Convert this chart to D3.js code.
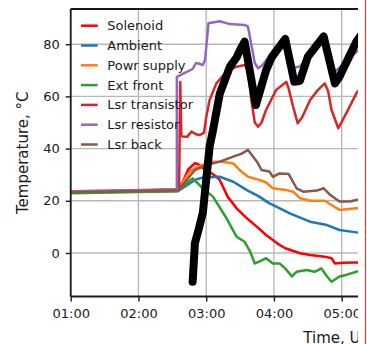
<!DOCTYPE html>
<html>
<head>
<meta charset="utf-8">
<script src="https://cdn.jsdelivr.net/npm/d3@7/dist/d3.min.js"></script>
<style>
  html, body { margin: 0; padding: 0; background: #fff; }
  svg { display: block; position: absolute; top: 0; left: 0; }
  text { font-family: "DejaVu Sans", sans-serif; fill: #1a1a1a; }
</style>
</head>
<body>
<script>
// Temperature logs, [time (UTC), °C]
const solenoid = [["01:00",23.3],["02:35",24.3],["02:39",27],["02:44",32],["02:50",34.4],["02:53",34],["02:58",32.2],["03:03",31],["03:08",29.6],["03:12",28],["03:19",21.6],["03:27",17.1],["03:36",13.3],["03:45",10],["03:53",6.9],["03:59",5],["04:05",3.1],["04:10",1.8],["04:23",-0.1],["04:32",-0.8],["04:45",-1.4],["04:51",-2],["04:54",-4],["05:01",-3.7],["05:13",-3.6],["05:18",-3.6]];
const ambient = [["01:00",23.2],["02:35",23.8],["02:39",24.8],["02:50",28],["02:57",28.9],["03:12",29.2],["03:24",27.3],["03:36",24.1],["03:47",21.6],["03:56",19],["03:59",18.4],["04:14",15.2],["04:32",12],["04:47",10.7],["04:58",8.8],["05:13",7.9],["05:18",7.7]];
const powrSupply = [["01:00",23.7],["02:35",24.3],["02:39",27],["02:45",31],["02:51",32.8],["02:59",34],["03:06",35],["03:15",35],["03:24",34.3],["03:31",31.2],["03:37",29.2],["03:47",28],["03:53",27],["03:59",24.8],["04:11",24.1],["04:17",23.5],["04:23",21],["04:32",20],["04:45",20],["04:51",18.4],["04:58",16.5],["05:13",17.1],["05:18",17.3]];
const extFront = [["01:00",22.9],["02:35",23.7],["02:39",25.5],["02:48",28.6],["02:57",24.8],["03:06",21.6],["03:18",13.3],["03:27",6.2],["03:34",4.3],["03:39",0.5],["03:43",-4],["03:47",-3.3],["03:53",-2],["03:59",-4],["04:05",-4],["04:10",-5.9],["04:16",-9],["04:20",-7.2],["04:29",-6.5],["04:36",-7.2],["04:42",-5.9],["04:47",-9],["04:51",-11],["04:58",-9],["05:04",-8.4],["05:13",-7.2],["05:18",-6.5]];
const lsrTransistor = [["01:00",23.4],["02:36",24.2],["02:37",65.5],["02:38",45],["02:39",44.6],["02:43",44.5],["02:47",46.5],["02:51",45.5],["02:54",45.2],["02:58",46],["03:00",52],["03:03",58.6],["03:09",65],["03:18",69.5],["03:27",71.4],["03:34",72],["03:37",70],["03:40",58.6],["03:43",50],["03:46",48.4],["03:49",50],["03:53",54.8],["04:02",62.5],["04:11",65.6],["04:13",63],["04:17",56],["04:21",49.7],["04:25",52],["04:32",58.6],["04:39",62.5],["04:45",65],["04:48",62],["04:51",54.8],["04:57",47.8],["05:04",53.5],["05:13",61.2],["05:18",64]];
const lsrResistor = [["01:00",23.6],["02:34",24.3],["02:34",67.5],["02:41",69],["02:48",70.5],["02:51",72.8],["02:54",72.5],["02:57",72],["02:59",74],["03:02",88],["03:12",88.8],["03:21",87.7],["03:34",87.4],["03:37",86.7],["03:43",72.8],["03:46",70.8],["03:50",72],["03:56",75.5],["04:10",80],["04:14",76],["04:18",71],["04:23",71.5],["04:30",75.5],["04:44",81],["04:50",74],["04:54",69.5],["04:58",71],["05:13",77],["05:18",79]];
const lsrBack = [["01:00",23.3],["02:35",24],["02:39",26],["02:50",31.8],["03:00",33.7],["03:12",35],["03:24",36.9],["03:31",38],["03:37",39.5],["03:45",35],["03:49",31.8],["03:56",31.2],["03:59",29.2],["04:05",30.5],["04:13",30.3],["04:20",24.8],["04:26",23.5],["04:38",23.9],["04:44",24.8],["04:50",22.2],["04:58",19.7],["05:07",19.7],["05:13",20.3],["05:18",20.5]];
// Overlay trace drawn on top in black
const overlay = [["02:48",-11],["02:50",3.8],["02:53",8.5],["02:57",15.3],["03:00",28],["03:03",40.7],["03:06",47],["03:12",61],["03:21",71.4],["03:27",75],["03:30",77.8],["03:34",81],["03:44",56.7],["03:53",70],["03:58",75],["04:10",82],["04:18",65.6],["04:23",66],["04:30",75.2],["04:44",83],["04:54",65],["04:58",67.5],["05:13",81],["05:18",84]];

const seriesNames = ["Solenoid","Ambient","Powr supply","Ext front","Lsr transistor","Lsr resistor","Lsr back"];
const seriesColors = ["#ff0000","#1f77b4","#ff7f0e","#2ca02c","#d62728","#9467bd","#8c564b"];
const seriesData = [solenoid, ambient, powrSupply, extFront, lsrTransistor, lsrResistor, lsrBack];
const xTickLabels = ["01:00","02:00","03:00","04:00","05:00"];
const yTickValues = [0, 20, 40, 60, 80];

const W = 367, H = 344;
const parseT = d3.utcParse("%H:%M");
const plotLeft = 70.7, plotTop = 9, plotBottom = 296.5;

const x = d3.scaleUtc()
  .domain([parseT("01:00"), parseT("05:20")])
  .range([plotLeft, plotLeft + 67.75 * (4 + 1/3)]);
const y = d3.scaleLinear().domain([-16.67, 93.49]).range([plotBottom, plotTop]);

const root = d3.select("body").append("svg").attr("width", W).attr("height", H);
// the figure itself is cut off at the right edge
const svg = root.append("svg").attr("width", 358).attr("height", H).attr("overflow", "hidden");

const plotRight = x.range()[1];
svg.append("defs").append("clipPath").attr("id", "plot")
  .append("rect").attr("x", plotLeft).attr("y", plotTop).attr("width", plotRight - plotLeft).attr("height", plotBottom - plotTop);

// grid
const grid = svg.append("g").attr("stroke", "#b8b8b8").attr("stroke-width", 1.4);
xTickLabels.forEach(t => {
  grid.append("line").attr("x1", x(parseT(t))).attr("x2", x(parseT(t))).attr("y1", plotTop).attr("y2", plotBottom);
});
yTickValues.forEach(v => {
  grid.append("line").attr("x1", plotLeft).attr("x2", plotRight).attr("y1", y(v)).attr("y2", y(v));
});

// series
const line = d3.line().x(d => x(parseT(d[0]))).y(d => y(d[1])).curve(d3.curveLinear);
const lines = svg.append("g").attr("clip-path", "url(#plot)").attr("fill", "none")
  .attr("stroke-linejoin", "round").attr("stroke-linecap", "round");
seriesData.forEach((data, i) => {
  lines.append("path").attr("d", line(data)).attr("stroke", seriesColors[i]).attr("stroke-width", 2.5);
});
lines.append("path").attr("d", line(overlay)).attr("stroke", "#000").attr("stroke-width", 8);

// axes
const xAxis = d3.axisBottom(x)
  .tickValues(xTickLabels.map(parseT))
  .tickFormat(d3.utcFormat("%H:%M"))
  .tickSize(5).tickPadding(5);
const yAxis = d3.axisLeft(y).tickValues(yTickValues).tickSize(5).tickPadding(6);

const gx = svg.append("g").attr("transform", `translate(0,${plotBottom})`).call(xAxis);
const gy = svg.append("g").attr("transform", `translate(${plotLeft},0)`).call(yAxis);
[gx, gy].forEach(g => {
  g.select(".domain").remove();
  g.selectAll(".tick line").attr("stroke", "#1a1a1a").attr("stroke-width", 1.4);
  g.selectAll(".tick text").attr("font-size", 13).attr("font-family", "DejaVu Sans").attr("fill", "#1a1a1a");
});
gx.selectAll(".tick text").attr("dy", "0.85em");

// spines
const spines = svg.append("g").attr("stroke", "#1a1a1a").attr("stroke-width", 1.8).attr("fill", "none");
spines.append("line").attr("x1", plotLeft).attr("x2", plotLeft).attr("y1", plotTop).attr("y2", plotBottom);
spines.append("line").attr("x1", plotLeft).attr("x2", plotRight).attr("y1", plotBottom).attr("y2", plotBottom);
spines.append("line").attr("x1", plotLeft).attr("x2", plotRight).attr("y1", plotTop).attr("y2", plotTop);

// legend
const legend = svg.append("g");
seriesNames.forEach((name, i) => {
  const ly = 25.7 + i * 19.8;
  legend.append("line").attr("x1", 81).attr("x2", 97.7).attr("y1", ly).attr("y2", ly)
    .attr("stroke", seriesColors[i]).attr("stroke-width", 2.5);
  legend.append("text").attr("x", 107.3).attr("y", ly).attr("dy", "0.35em")
    .attr("font-size", 13).text(name);
});

// axis titles
svg.append("text").attr("transform", `translate(28,${(plotTop + plotBottom) / 2}) rotate(-90)`)
  .attr("text-anchor", "middle").attr("font-size", 15).text("Temperature, °C");
svg.append("text").attr("x", 303.3).attr("y", 342.5).attr("font-size", 15).text("Time, UTC");

// outer frame line on the right
root.append("line").attr("x1", 365.5).attr("x2", 365.5).attr("y1", 0).attr("y2", H)
  .attr("stroke", "#e03a3a").attr("stroke-width", 1.2);
</script>
</body>
</html>
